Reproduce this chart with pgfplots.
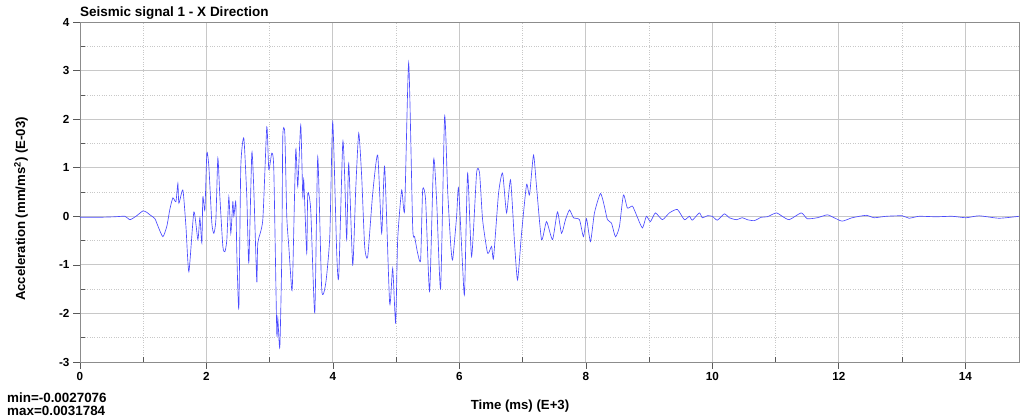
\documentclass[border=0pt]{standalone}
\usepackage{fontspec}
\setmainfont{Liberation Sans}
\usepackage{pgfplots}
\pgfplotsset{compat=1.18}
\definecolor{sig}{RGB}{75,75,255}
\definecolor{gridc}{RGB}{200,200,200}
\begin{document}
\begin{tikzpicture}
\useasboundingbox (-80pt,-55pt) rectangle (940pt,362pt);
\begin{axis}[at={(0pt,0pt)}, anchor=south west, scale only axis, width=939pt, height=340pt,
  xmin=0, xmax=14.85, ymin=-3, ymax=4,
  xtick={0,2,...,14}, ytick={-3,-2,...,4},
  minor xtick={1,3,...,13}, minor ytick={-2.5,-1.5,...,3.5},
  grid=both,
  major grid style={gridc, line width=0.9pt},
  minor grid style={gridc, dotted, line width=0.7pt},
  tick align=outside, major tick length=7pt, minor tick length=-5pt,
  xtick pos=bottom, ytick pos=left,
  axis line style={black!45, line width=0.7pt},
  tick style={black!65, line width=0.6pt},
  tick label style={font=\bfseries\fontsize{11.7}{13}\selectfont},
  /pgf/number format/assume math mode=true,
  clip=true,
]
\addplot[sig, line width=0.65pt, smooth, tension=0.35] coordinates {
(0,-0.02)(0.316,-0.02)(0.553,-0.01)(0.711,0.0)(0.790,-0.07)(0.885,0.0)(0.995,0.11)(1.058,0.08)(1.106,0.03)(1.185,-0.05)(1.232,-0.2)(1.311,-0.42)(1.374,-0.2)(1.422,0.15)(1.469,0.38)(1.517,0.3)(1.548,0.68)(1.564,0.27)(1.627,0.54)(1.675,-0.2)(1.722,-1.14)(1.801,0.09)(1.864,-0.48)(1.896,-0.03)(1.927,-0.55)(1.943,0.4)(1.975,0.13)(2.006,1.3)(2.038,1.02)(2.085,-0.14)(2.117,-0.35)(2.149,-0.07)(2.180,1.2)(2.212,0.4)(2.259,-0.62)(2.291,-0.73)(2.322,-0.49)(2.354,0.4)(2.385,-0.35)(2.417,0.3)(2.433,0.0)(2.464,0.3)(2.480,-0.76)(2.512,-1.89)(2.543,1.02)(2.591,1.61)(2.638,0.4)(2.670,-0.96)(2.717,1.3)(2.749,0.54)(2.796,-1.35)(2.812,-0.55)(2.891,-0.07)(2.954,1.84)(2.986,0.96)(3.033,1.3)(3.065,0.96)(3.112,-2.4)(3.128,-2.09)(3.160,-2.7)(3.191,-0.83)(3.207,1.64)(3.239,1.71)(3.270,0.0)(3.302,-0.62)(3.349,-1.52)(3.365,-1.17)(3.412,1.37)(3.444,0.61)(3.491,1.88)(3.523,0.4)(3.539,0.75)(3.586,-0.76)(3.602,0.47)(3.649,0.13)(3.713,-1.99)(3.760,1.22)(3.823,-1.51)(3.886,-1.38)(3.950,-0.42)(3.997,1.94)(4.060,-0.76)(4.092,-1.24)(4.155,1.51)(4.186,0.81)(4.218,-0.48)(4.250,1.09)(4.313,-1.0)(4.360,0.54)(4.408,1.71)(4.455,0.81)(4.502,-0.62)(4.550,-0.83)(4.629,0.47)(4.708,1.26)(4.771,-0.35)(4.818,1.02)(4.897,-1.79)(4.945,-1.07)(4.992,-2.2)(5.024,-0.48)(5.087,0.54)(5.134,0.13)(5.198,3.16)(5.261,-0.21)(5.292,-0.42)(5.340,-0.76)(5.387,-0.9)(5.419,0.54)(5.466,0.33)(5.529,-1.55)(5.592,1.16)(5.640,0.33)(5.703,-1.48)(5.766,2.05)(5.814,0.54)(5.861,-0.55)(5.893,-0.9)(5.956,0.0)(5.987,0.58)(6.051,-1.04)(6.082,-1.58)(6.130,0.89)(6.193,-0.83)(6.272,0.89)(6.319,0.89)(6.367,-0.07)(6.446,-0.76)(6.509,-0.62)(6.540,-0.86)(6.619,0.47)(6.683,0.89)(6.746,0.07)(6.809,0.75)(6.872,-0.55)(6.920,-1.31)(6.983,-0.35)(7.062,0.65)(7.109,0.44)(7.172,1.26)(7.220,0.61)(7.299,-0.48)(7.378,-0.11)(7.473,-0.48)(7.551,0.09)(7.615,-0.35)(7.678,-0.07)(7.741,0.13)(7.804,-0.03)(7.899,-0.07)(7.962,-0.42)(8.010,-0.05)(8.073,-0.52)(8.136,0.07)(8.231,0.47)(8.294,0.2)(8.341,-0.07)(8.405,-0.14)(8.468,-0.42)(8.531,-0.21)(8.594,0.44)(8.657,0.17)(8.736,0.21)(8.799,0.03)(8.894,-0.24)(8.957,0.0)(9.021,-0.11)(9.100,0.07)(9.210,-0.07)(9.321,0.07)(9.447,0.14)(9.558,-0.07)(9.637,0.0)(9.684,-0.08)(9.795,0.07)(9.842,-0.03)(9.921,0.01)(10.000,0.0)(10.079,-0.08)(10.190,0.05)(10.269,-0.03)(10.379,-0.07)(10.474,-0.03)(10.553,-0.07)(10.664,-0.09)(10.774,-0.02)(10.869,-0.01)(11.011,0.07)(11.106,0.0)(11.217,-0.07)(11.406,0.07)(11.501,-0.05)(11.659,-0.03)(11.817,0.03)(11.927,-0.03)(12.054,-0.1)(12.212,-0.03)(12.433,0.02)(12.559,-0.03)(12.749,0.0)(13.002,0.01)(13.112,-0.04)(13.270,0.0)(13.539,-0.01)(13.792,0.0)(14.013,-0.03)(14.218,0.01)(14.534,-0.04)(14.85,0.0)
};
\end{axis}
\node[inner sep=0pt, anchor=base west, font=\bfseries\fontsize{13.5}{15}\selectfont] at (0pt,345pt) {Seismic signal 1 - X Direction};
\node[inner sep=0pt, anchor=center, rotate=90, font=\bfseries\fontsize{13.2}{15}\selectfont] at (-59pt,153pt) {Acceleration (mm/ms\textsuperscript{2}) (E-03)};
\node[inner sep=0pt, anchor=base, font=\bfseries\fontsize{13.2}{15}\selectfont] at (440pt,-48pt) {Time (ms) (E+3)};
\node[inner sep=0pt, anchor=base west, font=\bfseries\fontsize{13.4}{15}\selectfont] at (-73pt,-41pt) {min=-0.0027076};
\node[inner sep=0pt, anchor=base west, font=\bfseries\fontsize{13.4}{15}\selectfont] at (-73pt,-53.5pt) {max=0.0031784};
\end{tikzpicture}
\end{document}
